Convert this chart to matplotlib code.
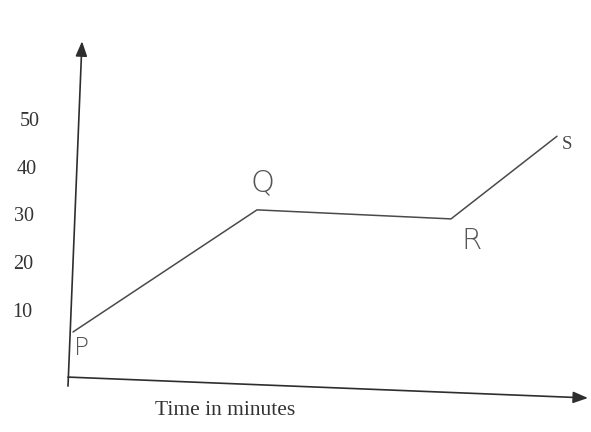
import matplotlib
matplotlib.use("Agg")
import matplotlib.pyplot as plt

# Data (time in arbitrary minute units, value on y scale)
point_names = ["P", "Q", "R", "S"]
times = [0.5, 18.9, 38.3, 48.9]
values = [5.8, 31.5, 29.6, 47.0]
ytick_values = [10, 20, 30, 40, 50]
ytick_labels = ["10", "20", "30", "40", "50"]
xlabel = "Time in minutes"

fig = plt.figure(figsize=(5.91, 4.32), dpi=100)
ax = fig.add_axes([0, 0, 1, 1])
ax.set_xlim(-6.8, 52.3)
ax.set_ylim(-15.26, 75.68)
ax.axis("off")

ink = "#2e2e2e"
serif = ["Liberation Serif", "DejaVu Serif"]

# axes (hand drawn, slightly slanted)
ax.annotate("", xy=(1.4, 67.0), xytext=(0.0, -5.6),
            arrowprops=dict(arrowstyle="-|>,head_length=0.9,head_width=0.35",
                            color=ink, lw=1.2, shrinkA=0, shrinkB=0))
ax.annotate("", xy=(52.0, -8.1), xytext=(0.0, -3.7),
            arrowprops=dict(arrowstyle="-|>,head_length=0.9,head_width=0.35",
                            color=ink, lw=1.2, shrinkA=0, shrinkB=0))

# tick labels
tick_x = [-4.6, -4.5, -4.4, -4.1, -3.8]
for tx, v, lab in zip(tick_x, ytick_values, ytick_labels):
    ax.text(tx, v, lab, ha="center", va="center", fontsize=14.5,
            family=serif, color="#333333")

# data line
ax.plot(times, values, color="#4a4a4a", lw=1.1, solid_capstyle="round")

# point labels
ax.text(times[0] + 0.8, values[0] - 3.3, point_names[0], fontsize=18,
        family=["DejaVu Sans"], color="#555555", ha="center", va="center",
        fontweight="light")
ax.text(times[1] + 0.5, values[1] + 5.6, point_names[1], fontsize=22,
        family=["DejaVu Sans"], color="#555555", ha="center", va="center",
        fontweight="light")
ax.text(times[2] + 2.0, values[2] - 4.6, point_names[2], fontsize=21,
        family=["DejaVu Sans"], color="#555555", ha="center", va="center",
        fontweight="light")
ax.text(times[3] + 1.0, values[3] - 1.8, point_names[3], fontsize=13.5,
        family=serif, color="#444444", ha="center", va="center")

# x label
ax.text(15.7, -10.8, xlabel, fontsize=15.5, family=serif, color="#333333",
        ha="center", va="center")

fig.savefig("out.png", dpi=100)
